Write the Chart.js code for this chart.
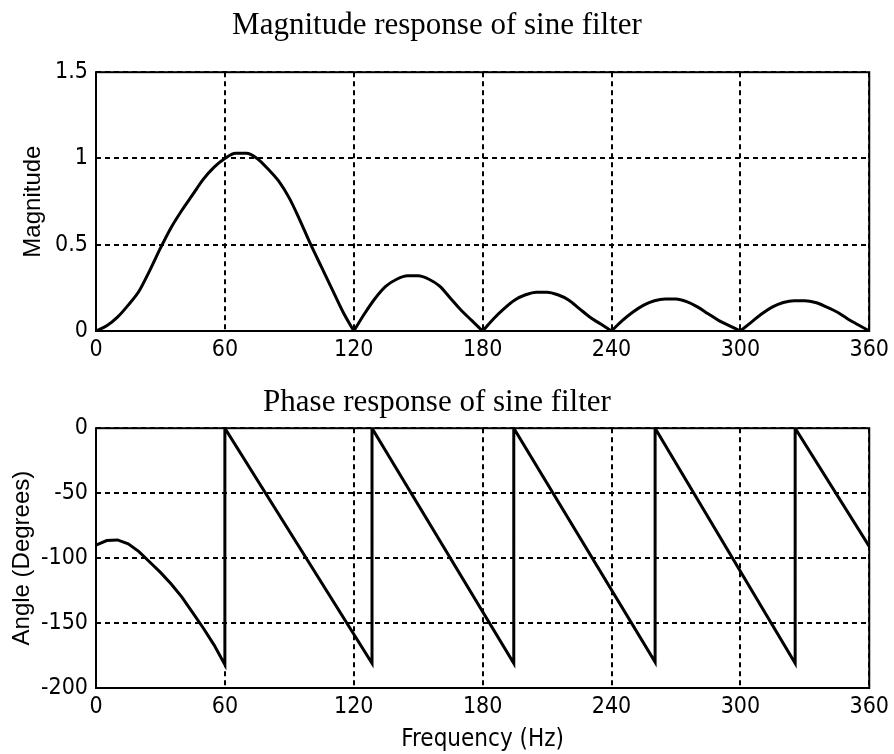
<!DOCTYPE html>
<html>
<head>
<meta charset="utf-8">
<script src="https://cdn.jsdelivr.net/npm/chart.js@4.4.1/dist/chart.umd.min.js"></script>
<style>
  html, body { margin: 0; padding: 0; background: #fff; }
  #top { position: absolute; left: 0; top: 0; width: 894px; height: 366px; }
  #bottom { position: absolute; left: 0; top: 366px; width: 894px; height: 388px; }
</style>
</head>
<body>
<div id="top"><canvas id="magChart"></canvas></div>
<div id="bottom"><canvas id="phaseChart"></canvas></div>
<script>
// magnitude response, every 5 Hz
const magFreq = [
  0, 5, 10, 15, 20, 25, 30, 35, 40, 45, 50, 55, 60, 65, 70, 75, 80, 85, 90, 95, 100, 105, 110, 115,
  120, 125, 130, 135, 140, 145, 150, 155, 160, 165, 170, 175,
  180, 185, 190, 195, 200, 205, 210, 215, 220, 225, 230, 235,
  240, 245, 250, 255, 260, 265, 270, 275, 280, 285, 290, 295,
  300, 305, 310, 315, 320, 325, 330, 335, 340, 345, 350, 355, 360
];
const magValues = [
  0, 0.03, 0.08, 0.15, 0.23, 0.35, 0.48, 0.60, 0.70, 0.79, 0.88, 0.95, 1.00, 1.03, 1.03, 1.00, 0.94, 0.87, 0.77, 0.64, 0.50, 0.37, 0.24, 0.11,
  0, 0.10, 0.19, 0.26, 0.30, 0.32, 0.32, 0.30, 0.26, 0.19, 0.12, 0.06,
  0, 0.07, 0.13, 0.18, 0.21, 0.225, 0.225, 0.21, 0.18, 0.13, 0.08, 0.04,
  0, 0.06, 0.11, 0.15, 0.175, 0.185, 0.185, 0.17, 0.14, 0.10, 0.06, 0.03,
  0, 0.05, 0.10, 0.14, 0.165, 0.175, 0.175, 0.165, 0.14, 0.11, 0.07, 0.035, 0
];

// phase response (sawtooth with jumps back to 0)
const phaseFreq = [
  0, 5, 10, 15, 20, 25, 30, 35, 40, 45, 50, 55, 60,
  60, 128.5,
  128.5, 194.5,
  194.5, 260.3,
  260.3, 325.5,
  325.5, 360
];
const phaseDeg = [
  -90, -86.5, -86, -89, -95, -103, -111, -120, -130, -142, -154, -167, -182,
  0, -181,
  0, -181,
  0, -180,
  0, -181,
  0, -91
];

const freqMin = 0, freqMax = 360, freqStep = 60;
const magMin = 0, magMax = 1.5, magStep = 0.5;
const degMin = -200, degMax = 0, degStep = 50;

const narrow = "'DejaVu Sans Condensed', 'Liberation Sans Narrow', 'Arial Narrow', sans-serif";
const serif = "'Liberation Serif', 'Times New Roman', serif";
const sans = "'Liberation Sans', Arial, sans-serif";

// split the magnitude into lobes at its zeros so the cusps stay sharp
function splitLobes(xs, ys) {
  const lobes = [];
  let cur = [];
  xs.forEach((x, i) => {
    cur.push({ x: x, y: ys[i] });
    if (ys[i] === 0 && cur.length > 1) {
      lobes.push(cur);
      cur = [{ x: x, y: ys[i] }];
    }
  });
  if (cur.length > 1) lobes.push(cur);
  return lobes;
}

// solid frame round the plot area
const boxPlugin = {
  id: 'box',
  afterDatasetsDraw(chart) {
    const { ctx, chartArea: a } = chart;
    ctx.save();
    ctx.strokeStyle = '#000';
    ctx.lineWidth = 2;
    ctx.setLineDash([]);
    ctx.strokeRect(a.left, a.top, a.right - a.left, a.bottom - a.top);
    ctx.restore();
  }
};

const gridStyle = {
  color: '#000',
  lineWidth: 2,
  drawTicks: false
};

function makeChart(canvasId, segments, opts) {
  const ctx = document.getElementById(canvasId).getContext('2d');
  return new Chart(ctx, {
    type: 'line',
    data: {
      datasets: segments.map(seg => ({
        data: seg,
        borderColor: '#000',
        borderWidth: 3,
        pointRadius: 0,
        tension: opts.tension,
        cubicInterpolationMode: opts.tension ? 'monotone' : 'default'
      }))
    },
    options: {
      responsive: true,
      maintainAspectRatio: false,
      animation: false,
      layout: { padding: { left: 0, right: 20, top: 0, bottom: 0 } },
      plugins: {
        legend: { display: false },
        tooltip: { enabled: false },
        title: {
          display: true,
          text: opts.title,
          color: '#000',
          font: { family: serif, size: 31, weight: 'normal' },
          padding: opts.titlePadding
        }
      },
      scales: {
        x: {
          type: 'linear',
          min: freqMin,
          max: freqMax,
          grid: Object.assign({}, gridStyle),
          border: { display: false, dash: [5, 4] },
          ticks: {
            stepSize: freqStep,
            color: '#000',
            padding: 5,
            maxRotation: 0,
            font: { family: narrow, size: 23 }
          },
          title: opts.xTitle ? {
            display: true,
            text: opts.xTitle,
            color: '#000',
            font: { family: narrow, size: 24 },
            padding: { top: 0, bottom: 0 }
          } : { display: false },
          afterFit(scale) { scale.height = opts.xHeight; }
        },
        y: {
          min: opts.yMin,
          max: opts.yMax,
          grid: Object.assign({}, gridStyle),
          border: { display: false, dash: [5, 4] },
          ticks: {
            stepSize: opts.yStep,
            color: '#000',
            padding: 8,
            font: { family: narrow, size: 23 },
            callback: (v) => String(v)
          },
          title: {
            display: true,
            text: opts.yTitle,
            color: '#000',
            font: { family: sans, size: 24 },
            padding: { top: opts.yTitlePad, bottom: 0 }
          },
          afterFit(scale) { scale.width = 96; }
        }
      }
    },
    plugins: [boxPlugin]
  });
}

makeChart('magChart', splitLobes(magFreq, magValues), {
  title: 'Magnitude response of sine filter',
  titlePadding: { top: 7, bottom: 28 },
  yTitle: 'Magnitude',
  yTitlePad: 19,
  yMin: magMin, yMax: magMax, yStep: magStep,
  xHeight: 35,
  tension: 0.4
});

makeChart('phaseChart', [phaseFreq.map((x, i) => ({ x: x, y: phaseDeg[i] }))], {
  title: 'Phase response of sine filter',
  titlePadding: { top: 18, bottom: 7 },
  yTitle: 'Angle (Degrees)',
  yTitlePad: 8,
  xTitle: 'Frequency (Hz)',
  yMin: degMin, yMax: degMax, yStep: degStep,
  xHeight: 66,
  tension: 0
});
</script>
</body>
</html>
